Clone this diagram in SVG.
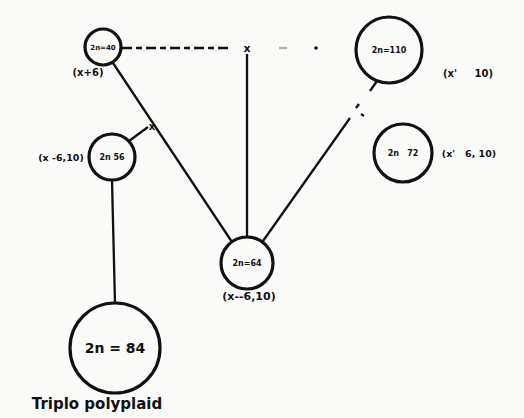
<svg xmlns="http://www.w3.org/2000/svg" width="524" height="418" viewBox="0 0 524 418">
<style>
.n{fill:none;stroke:#111;stroke-width:3.2}
.c{stroke:#111;stroke-width:2.3;fill:none}
.t{font-family:"DejaVu Sans",sans-serif;font-weight:bold;fill:#111;text-anchor:middle;white-space:pre}
</style>
<rect width="524" height="418" fill="#fafaf8"/>
<g id="connectors">
<line class="c" x1="122" y1="48" x2="228" y2="48" stroke-dasharray="10 4 6 4" stroke-width="2"/>
<text class="t" x="247" y="52" font-size="11">x</text>
<line class="c" x1="279" y1="48" x2="287" y2="48" stroke-opacity="0.3"/>
<circle cx="316" cy="48" r="1.8" fill="#111"/>
<line class="c" x1="247" y1="54" x2="247" y2="237"/>
<line class="c" x1="113" y1="63" x2="232" y2="242"/>
<line class="c" x1="129" y1="141" x2="148" y2="127"/>
<text class="t" x="152" y="130" font-size="10">x</text>
<line class="c" x1="263" y1="241" x2="350" y2="118"/>
<line class="c" x1="356" y1="108" x2="359" y2="104"/>
<line class="c" x1="361" y1="114" x2="364" y2="116"/>
<line class="c" x1="370" y1="91" x2="377" y2="81"/>
<line class="c" x1="112" y1="180" x2="115" y2="303"/>
</g>
<g id="n40">
<circle class="n" cx="103" cy="47" r="18"/>
<text class="t" x="103" y="50" font-size="7">2n=40</text>
<text class="t" x="88" y="76" font-size="10">(x+6)</text>
</g>
<g id="n110">
<circle class="n" cx="389" cy="50" r="33"/>
<text class="t" x="389" y="53" font-size="8">2n=110</text>
<text class="t" x="468" y="77" font-size="10" xml:space="preserve">(x'     10)</text>
</g>
<g id="n72">
<circle class="n" cx="403" cy="153" r="29"/>
<text class="t" x="403" y="156" font-size="8" xml:space="preserve">2n   72</text>
<text class="t" x="469" y="157" font-size="9.5" xml:space="preserve">(x'   6, 10)</text>
</g>
<g id="n56">
<circle class="n" cx="112" cy="157" r="23"/>
<text class="t" x="112" y="160" font-size="8">2n 56</text>
<text class="t" x="61" y="161" font-size="9.5">(x -6,10)</text>
</g>
<g id="n64">
<circle class="n" cx="247" cy="263" r="26"/>
<text class="t" x="247" y="266" font-size="8">2n=64</text>
<text class="t" x="249" y="300" font-size="11">(x--6,10)</text>
</g>
<g id="n84">
<circle class="n" cx="115" cy="348" r="45"/>
<text class="t" x="115" y="353" font-size="14">2n = 84</text>
<text class="t" x="97" y="409" font-size="15">Triplo polyplaid</text>
</g>
</svg>
